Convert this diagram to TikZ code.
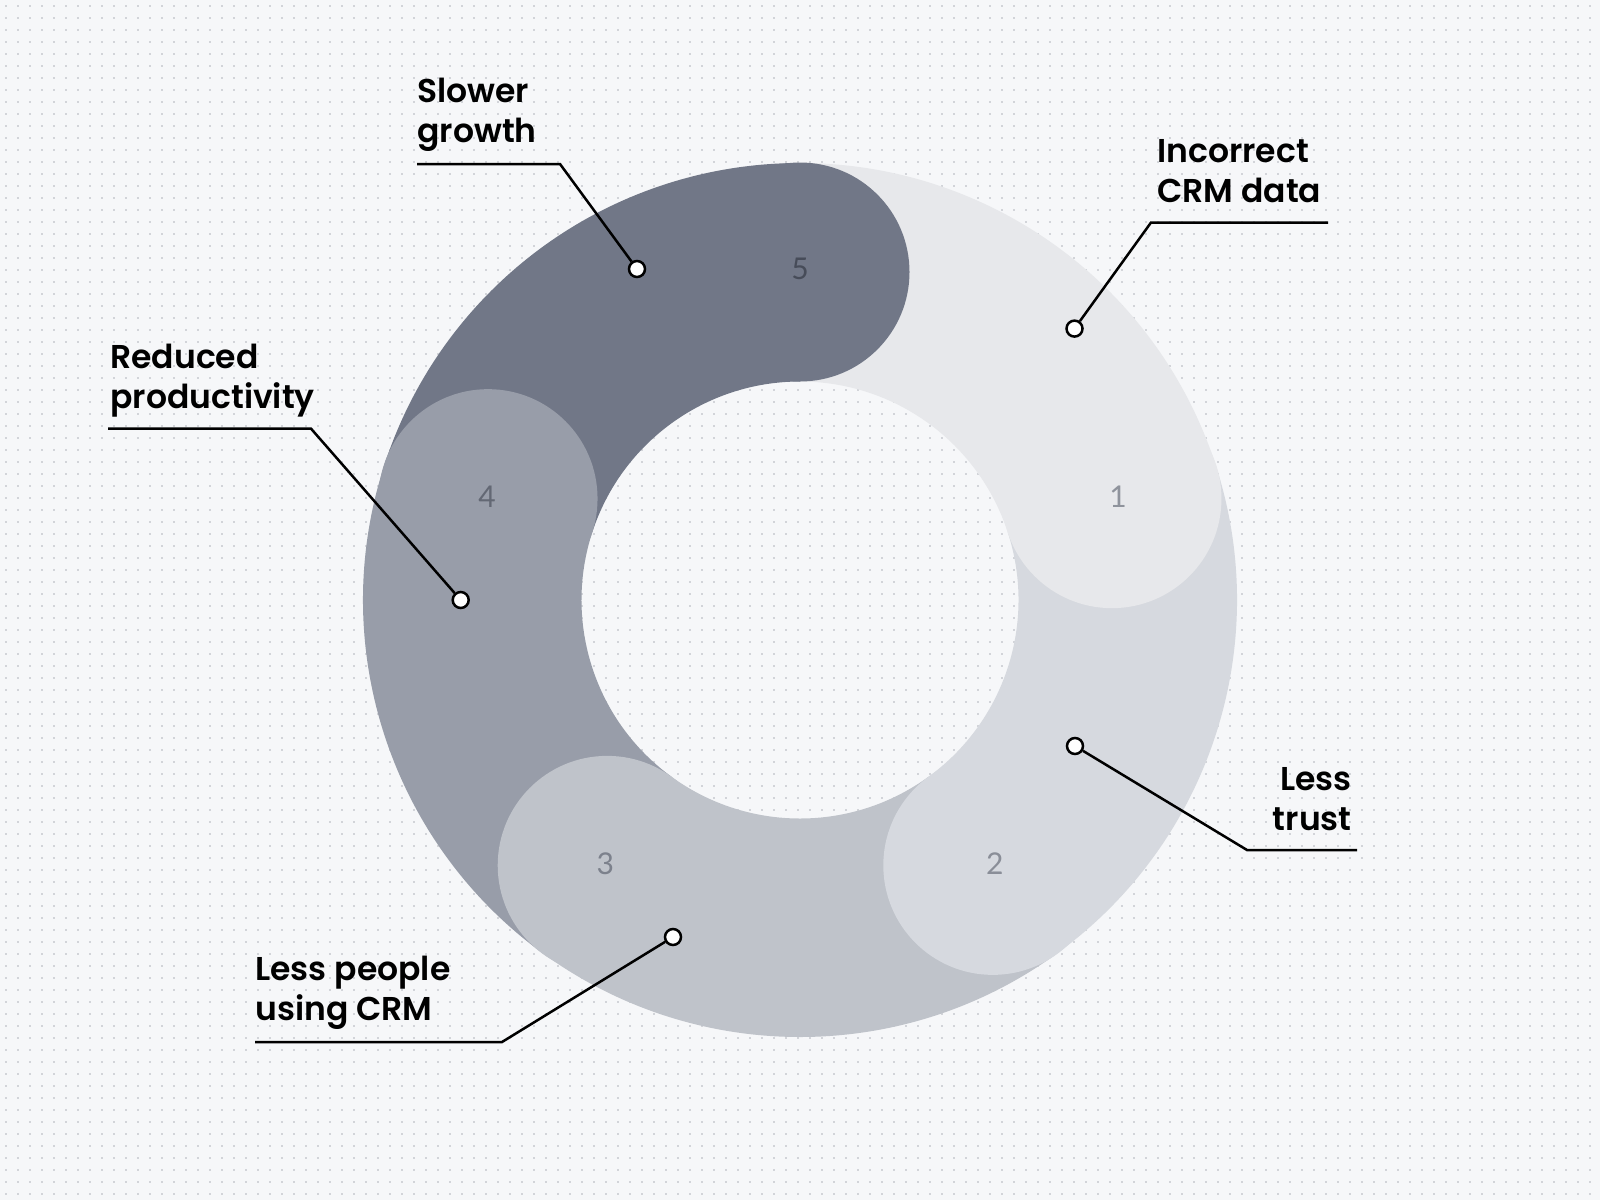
\documentclass[tikz,border=0pt]{standalone}
\usepackage{fontspec}
\setmainfont{Lato}
\newfontfamily\lblfont{Poppins}[UprightFont=* SemiBold]
\definecolor{bgc}{HTML}{F6F7F9}
\definecolor{dotc}{HTML}{D2D4D9}
\definecolor{segA}{HTML}{E7E8EB}
\definecolor{segB}{HTML}{D6D9DF}
\definecolor{segC}{HTML}{BFC3CA}
\definecolor{segD}{HTML}{989DA9}
\definecolor{segE}{HTML}{717787}
\definecolor{numA}{HTML}{8F939C}
\definecolor{numB}{HTML}{8A8E98}
\definecolor{numC}{HTML}{7C818C}
\definecolor{numD}{HTML}{636874}
\definecolor{numE}{HTML}{474C59}
\begin{document}
\begin{tikzpicture}[x=0.5pt,y=-0.5pt,
  lbl/.style={font=\lblfont\fontsize{16.5}{20}\selectfont, inner sep=0pt, text=black},
  numlbl/.style={font=\fontsize{15}{18}\selectfont, inner sep=0pt},
  leader/.style={draw=black, line width=1.25pt, line join=miter},
  marker/.style={circle, draw=black, fill=white, line width=1.25pt, minimum size=8pt, inner sep=0pt}]
\useasboundingbox (0,0) rectangle (1600,1200);
\fill[bgc] (0,0) rectangle (1600,1200);
\foreach \yy in {6,18,...,1194}
  \draw[dotc, line width=0.75pt, dash pattern=on 0.75pt off 5.25pt] (5,\yy) -- (1600,\yy);
% ring
\begin{scope}[shift={(800,600)}, yscale=-1]
  \fill[segA] (18:437) arc[start angle=18,end angle=90,radius=437] -- (90:218.5) arc[start angle=90,end angle=18,radius=218.5] -- cycle;
  \fill[segB] (-54:437) arc[start angle=-54,end angle=18,radius=437] -- (18:218.5) arc[start angle=18,end angle=-54,radius=218.5] -- cycle;
  \fill[segC] (-126:437) arc[start angle=-126,end angle=-54,radius=437] -- (-54:218.5) arc[start angle=-54,end angle=-126,radius=218.5] -- cycle;
  \fill[segD] (162:437) arc[start angle=162,end angle=234,radius=437] -- (234:218.5) arc[start angle=234,end angle=162,radius=218.5] -- cycle;
  \fill[segE] (90:437) arc[start angle=90,end angle=162,radius=437] -- (162:218.5) arc[start angle=162,end angle=90,radius=218.5] -- cycle;
  \fill[segA] (18:328) circle[radius=109.5];
  \fill[segB] (-54:328) circle[radius=109.5];
  \fill[segC] (-126:328) circle[radius=109.5];
  \fill[segD] (162:328) circle[radius=109.5];
  \fill[segE] (90:328) circle[radius=109.5];
  \node[numlbl, text=numA] (n1) at ([shift={(6,2)}]18:328) {1};
  \node[numlbl, text=numB] (n2) at ([shift={(2,2)}]-54:328) {2};
  \node[numlbl, text=numC] (n3) at ([shift={(-2,2)}]-126:328) {3};
  \node[numlbl, text=numD] (n4) at ([shift={(-1,2)}]162:328) {4};
  \node[numlbl, text=numE] (n5) at ([shift={(0,3)}]90:328) {5};
\end{scope}
% markers
\node[marker] (m5) at (637,269) {};
\node[marker] (m1) at (1074.5,328.6) {};
\node[marker] (m4) at (460.7,600) {};
\node[marker] (m2) at (1075,746) {};
\node[marker] (m3) at (673,937) {};
% leader coordinates
\coordinate (u5s) at (417,164);   \coordinate (u5c) at (560,164);
\coordinate (u1s) at (1328,222.5);\coordinate (u1c) at (1151,222.5);
\coordinate (u4s) at (108,428.6); \coordinate (u4c) at (311,428.6);
\coordinate (u2s) at (1357,850);  \coordinate (u2c) at (1247,850);
\coordinate (u3s) at (255,1042);  \coordinate (u3c) at (502,1042);
\draw[leader] (u5s) -- (u5c) -- (m5);
\draw[leader] (u1s) -- (u1c) -- (m1);
\draw[leader] (u4s) -- (u4c) -- (m4);
\draw[leader] (u2s) -- (u2c) -- (m2);
\draw[leader] (u3s) -- (u3c) -- (m3);
% labels (anchor at the baseline of the last line)
\node[lbl, anchor=base west, align=left] (t5) at (417,142) {Slower\\growth};
\node[lbl, anchor=base west, align=left] (t1) at (1157,202.5) {Incorrect\\CRM data};
\node[lbl, anchor=base west, align=left] (t4) at (110,408) {Reduced\\productivity};
\node[lbl, anchor=base east, align=right] (t2) at (1352,830) {Less\\trust};
\node[lbl, anchor=base west, align=left] (t3) at (255,1020) {Less people\\using CRM};
\end{tikzpicture}
\end{document}
